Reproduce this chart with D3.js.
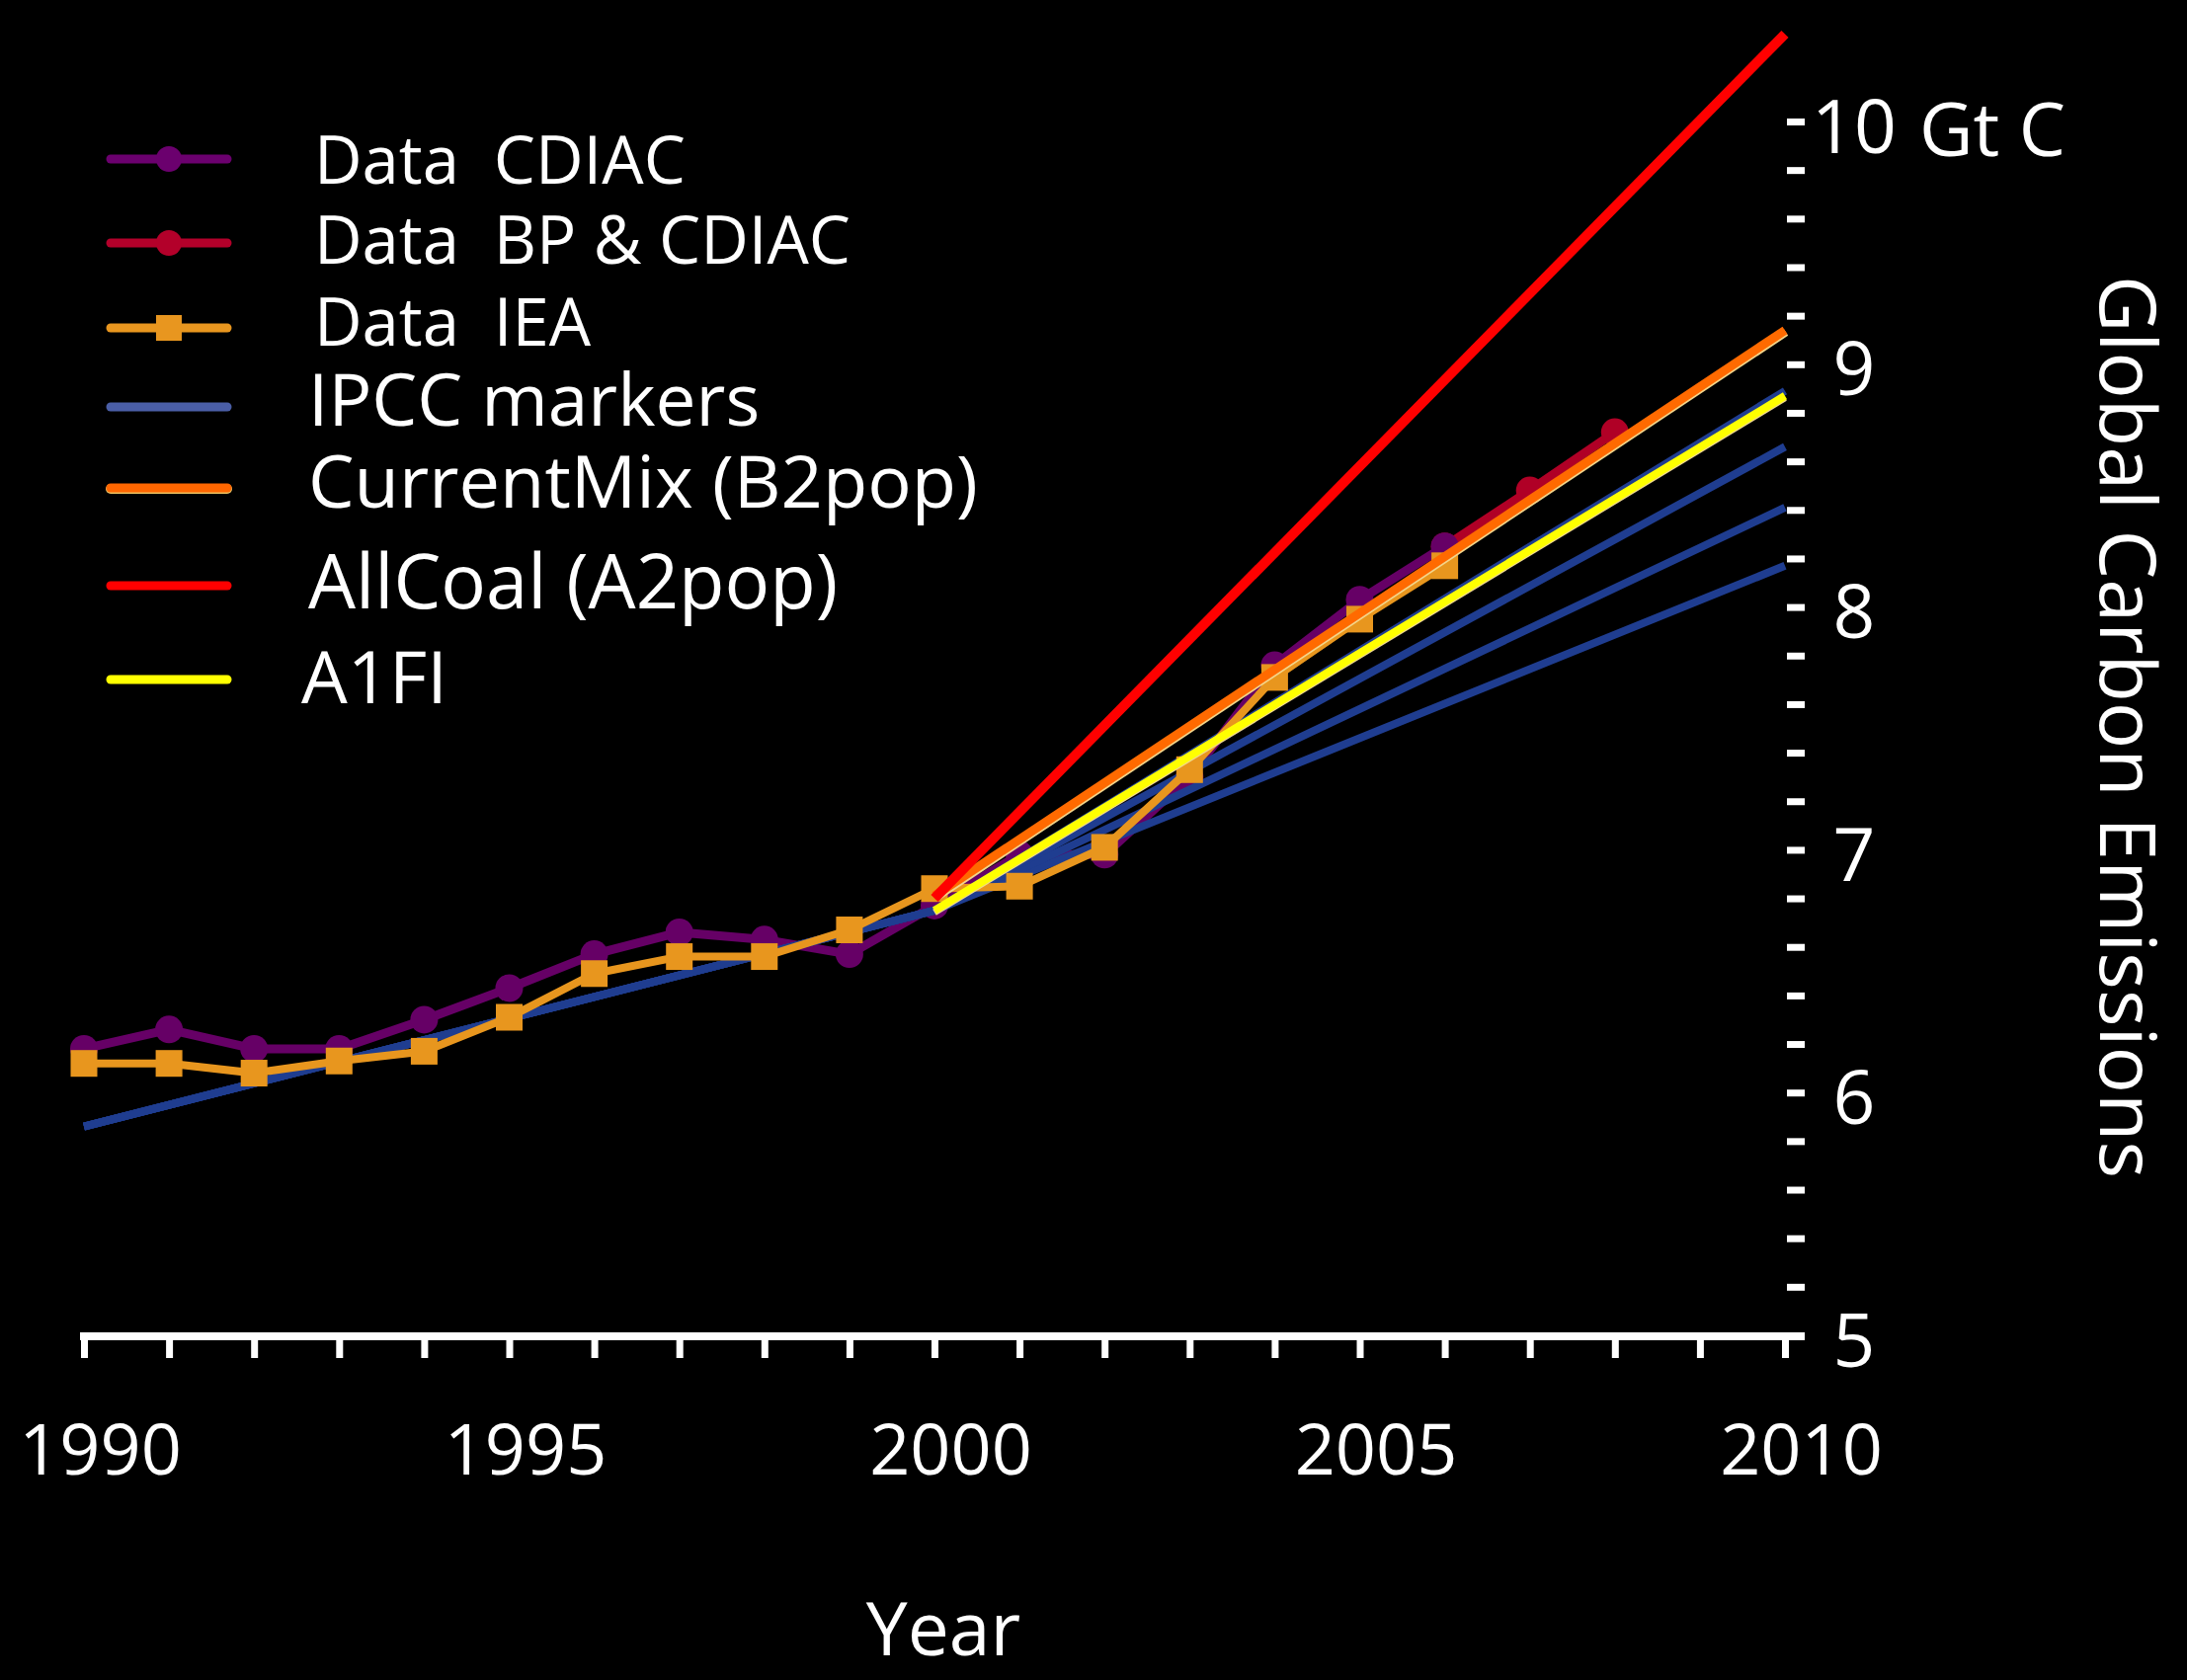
<!DOCTYPE html>
<html>
<head>
<meta charset="utf-8">
<script src="https://cdn.jsdelivr.net/npm/d3@7"></script>
<style>
  html, body { margin: 0; padding: 0; background: #000; }
  svg { display: block; }
  text { font-family: 'Open Sans', 'Noto Sans', sans-serif; fill: #fff; white-space: pre; }
</style>
</head>
<body>
<svg id="chart" width="2214" height="1701"></svg>
<script>
// ---- data -----------------------------------------------------------
// Axis categories and labels
const years = d3.range(1990, 2011);
const xTickLabels = [1990, 1995, 2000, 2005, 2010];
const yTickLabels = [5, 6, 7, 8, 9, 10];
const yMinorTicks = d3.range(50, 101, 2).map(v => v / 10);

// Observed global carbon emissions (Gt C / yr)
const cdiacYears = d3.range(1990, 2007);
const cdiacValues = [6.18, 6.26, 6.18, 6.18, 6.30, 6.43, 6.57, 6.66, 6.63, 6.57,
                     6.77, 6.98, 6.98, 7.30, 7.76, 8.03, 8.25];
const bpYears = [2006, 2007, 2008];
const bpValues = [8.25, 8.48, 8.72];
const ieaYears = d3.range(1990, 2007);
const ieaValues = [6.12, 6.12, 6.08, 6.13, 6.17, 6.31, 6.49, 6.56, 6.56, 6.67,
                   6.84, 6.85, 7.01, 7.33, 7.71, 7.95, 8.17];

// IPCC SRES marker scenarios
const ipccYears = [1990, 2000, 2010];
const ipccHigh = [5.86, 6.75, 8.89];
const ipccMidHigh = [5.86, 6.75, 8.66];
const ipccMidLow = [5.86, 6.75, 8.41];
const ipccLow = [5.86, 6.75, 8.17];

// Projection scenarios from 2000
const scenarioYears = [2000, 2010];
const currentMixValues = [6.81, 9.14];
const allCoalValues = [6.80, 10.36];
const a1fiValues = [6.75, 8.87];

// Legend entries
const legendLabels = ['Data  CDIAC', 'Data  BP & CDIAC', 'Data  IEA', 'IPCC markers',
                      'CurrentMix (B2pop)', 'AllCoal (A2pop)', 'A1FI'];

// ---- drawing --------------------------------------------------------
const svg = d3.select('#chart');
svg.append('rect').attr('width', 2214).attr('height', 1701).attr('fill', '#000');

const x = d3.scaleLinear().domain([1990, 2010]).range([85, 1807]);
const y = d3.scaleLinear().domain([5, 10]).range([1352, 123]);

const col = {
  cdiac: '#660066', bp: '#b00026', iea: '#e8961e', ipcc: '#1f3d90',
  mix: '#ff6a00', coal: '#ff0000', a1fi: '#ffff00'
};

function seriesLine(yrs) {
  return d3.line().x((d, i) => x(yrs[i])).y(d => y(d));
}

function drawLine(values, yrs, color, width, cls) {
  svg.append('path')
    .attr('class', cls)
    .attr('d', seriesLine(yrs)(values))
    .attr('fill', 'none')
    .attr('stroke', color)
    .attr('stroke-width', width)
    .attr('stroke-linejoin', 'round');
}

function drawCircles(values, yrs, color, r) {
  svg.append('g').selectAll('circle').data(values).join('circle')
    .attr('cx', (d, i) => x(yrs[i]))
    .attr('cy', d => y(d))
    .attr('r', r)
    .attr('fill', color);
}

function drawSquares(values, yrs, color, s) {
  svg.append('g').selectAll('rect').data(values).join('rect')
    .attr('x', (d, i) => x(yrs[i]) - s / 2)
    .attr('y', d => y(d) - s / 2)
    .attr('width', s).attr('height', s)
    .attr('fill', color);
}

// Observed data: CDIAC then BP & CDIAC extension
drawLine(bpValues, bpYears, col.bp, 9, 'bp');
drawCircles(bpValues, bpYears, col.bp, 14);
drawLine(cdiacValues, cdiacYears, col.cdiac, 9, 'cdiac');
drawCircles(cdiacValues, cdiacYears, col.cdiac, 14);

// IPCC markers
[ipccLow, ipccMidLow, ipccMidHigh, ipccHigh].forEach(v => drawLine(v, ipccYears, col.ipcc, 8, 'ipcc'));

// IEA data
drawLine(ieaValues, ieaYears, col.iea, 8, 'iea');
drawSquares(ieaValues, ieaYears, col.iea, 27);

// Scenarios
svg.append('path')
  .attr('d', seriesLine(scenarioYears)(a1fiValues))
  .attr('transform', 'translate(0,2)')
  .attr('fill', 'none').attr('stroke', '#f0d890').attr('stroke-width', 7);
drawLine(a1fiValues, scenarioYears, col.a1fi, 8, 'a1fi');
svg.append('path')
  .attr('d', seriesLine(scenarioYears)(currentMixValues))
  .attr('transform', 'translate(1,2)')
  .attr('fill', 'none').attr('stroke', '#f3d58a').attr('stroke-width', 8);
drawLine(currentMixValues, scenarioYears, col.mix, 9, 'mix');
drawLine(allCoalValues, scenarioYears, col.coal, 10, 'coal');

// ---- axes -----------------------------------------------------------
// x axis baseline
svg.append('rect')
  .attr('x', x(1990) - 4).attr('y', 1349)
  .attr('width', 1827 - (x(1990) - 4)).attr('height', 8)
  .attr('fill', '#fff');

const xAxis = d3.axisBottom(x)
  .tickValues(years)
  .tickSize(18)
  .tickFormat(d => xTickLabels.includes(d) ? String(d) : '');
const gx = svg.append('g').attr('transform', 'translate(0,1357)').call(xAxis);
gx.select('.domain').remove();
gx.selectAll('.tick line').attr('stroke', '#fff').attr('stroke-width', 7);
gx.selectAll('.tick text')
  .attr('fill', '#fff')
  .attr('x', 16)
  .attr('y', 1493 - 1357)
  .attr('dy', 0)
  .style('font-size', '72px')
  .style('font-family', "'Open Sans', sans-serif");

// y axis: short dashes every 0.2
const yDash = d3.axisRight(y).tickValues(yMinorTicks).tickSize(18).tickFormat('');
const gyd = svg.append('g').attr('transform', 'translate(1809,0)').call(yDash);
gyd.select('.domain').remove();
gyd.selectAll('.tick line').attr('stroke', '#fff').attr('stroke-width', 7);

// y axis labels
const yLab = d3.axisRight(y).tickValues(yTickLabels).tickSize(0).tickFormat(d => String(d));
const gyl = svg.append('g').attr('transform', 'translate(1877,0)').call(yLab);
gyl.select('.domain').remove();
gyl.selectAll('.tick text')
  .attr('fill', '#fff')
  .attr('x', 0)
  .attr('dy', 31)
  .attr('text-anchor', 'middle')
  .style('font-size', '75px')
  .style('font-family', "'Open Sans', sans-serif");

// unit next to the top label
svg.append('text')
  .attr('x', 1943).attr('y', y(10) + 35)
  .style('font-size', '75px')
  .text('Gt C');

// axis titles
svg.append('text')
  .attr('x', 955).attr('y', 1676)
  .attr('text-anchor', 'middle')
  .style('font-size', '75px')
  .text('Year');

svg.append('text')
  .attr('transform', 'translate(2126,736) rotate(90)')
  .attr('text-anchor', 'middle')
  .style('font-size', '79px')
  .text('Global Carbon Emissions');

// ---- legend ---------------------------------------------------------
const legendRows = [
  { line: 161, base: 186, tx: 318, fs: 67, color: '#6b006e', marker: 'circle' },
  { line: 246, base: 267, tx: 318, fs: 67, color: '#b3002a', marker: 'circle' },
  { line: 332, base: 350, tx: 318, fs: 67, color: '#e8961f', marker: 'square' },
  { line: 412, base: 431, tx: 312, fs: 73, color: '#4a5ea6', marker: null },
  { line: 494, base: 514, tx: 312, fs: 74, color: '#ff6600', marker: null, edge: '#e8c060' },
  { line: 593, base: 616, tx: 312, fs: 76, color: '#ff0000', marker: null },
  { line: 688, base: 712, tx: 305, fs: 74, color: '#ffff00', marker: null }
];

const lg = svg.append('g');
legendLabels.forEach((label, i) => {
  const r = legendRows[i];
  if (r.edge) {
    lg.append('line')
      .attr('x1', 112).attr('x2', 230).attr('y1', r.line + 1).attr('y2', r.line + 1)
      .attr('stroke', r.edge).attr('stroke-width', 10).attr('stroke-linecap', 'round');
  }
  lg.append('line')
    .attr('x1', 112).attr('x2', 230).attr('y1', r.line).attr('y2', r.line)
    .attr('stroke', r.color).attr('stroke-width', 9).attr('stroke-linecap', 'round');
  if (r.marker === 'circle') {
    lg.append('circle').attr('cx', 171).attr('cy', r.line).attr('r', 13).attr('fill', r.color);
  } else if (r.marker === 'square') {
    lg.append('rect').attr('x', 158).attr('y', r.line - 13).attr('width', 26).attr('height', 26)
      .attr('fill', r.color);
  }
  lg.append('text')
    .attr('x', r.tx).attr('y', r.base)
    .style('font-size', r.fs + 'px')
    .text(label);
});
</script>
</body>
</html>
